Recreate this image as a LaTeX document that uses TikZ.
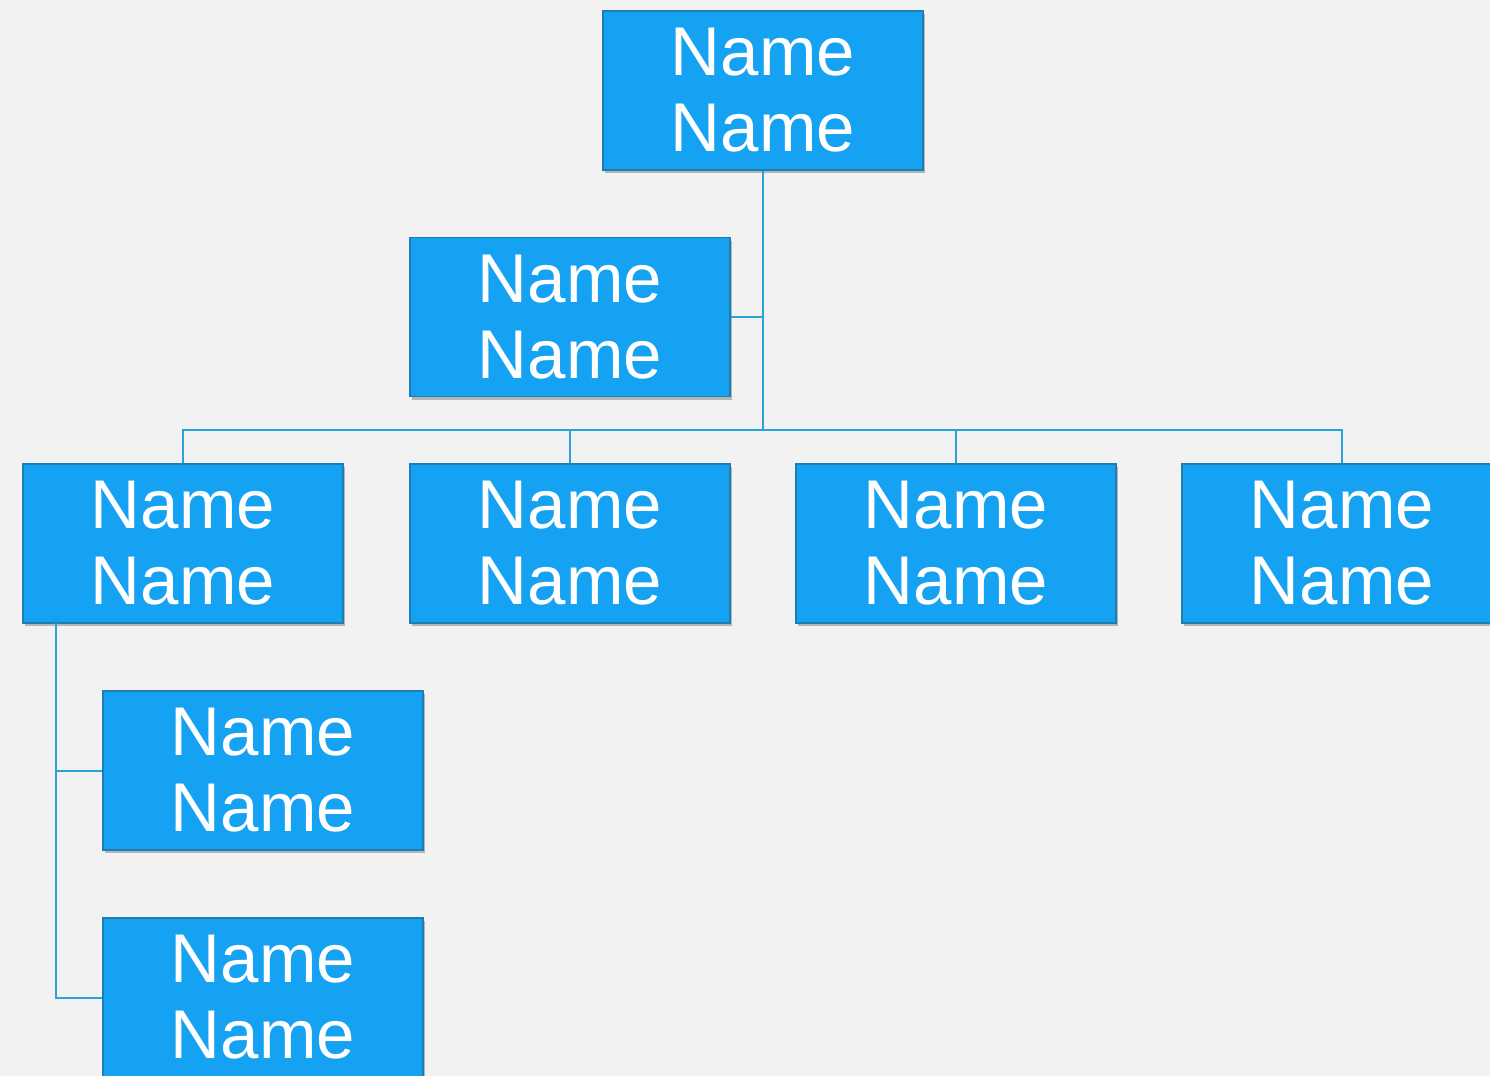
\documentclass[tikz,border=0pt]{standalone}
\usepackage{fontspec}
\setmainfont{Liberation Sans}
\usetikzlibrary{shadows}
\definecolor{bg}{HTML}{F2F2F2}
\definecolor{boxfill}{HTML}{16A2F2}
\definecolor{boxline}{HTML}{1E7DB2}
\definecolor{conncol}{HTML}{2BA3D3}
\begin{document}
\begin{tikzpicture}[x=0.5pt,y=-0.5pt,
  person/.style={rectangle, draw=boxline, line width=0.6pt, fill=boxfill,
    minimum width=160pt, minimum height=79.5pt, inner sep=0pt,
    text=white, align=center,
    font=\fontsize{34.5}{38}\selectfont,
    drop shadow={shadow xshift=1.2pt, shadow yshift=-1.5pt, opacity=0.25, fill=black}},
  conn/.style={draw=conncol, line width=1pt}]
\useasboundingbox (0,0) rectangle (1490,1076);
\clip (0,0) rectangle (1490,1076);
\fill[bg] (0,0) rectangle (1490,1076);
\node[person] (top) at (763,90.5) {Name\\Name};
\node[person] (mgr) at (570,317) {Name\\Name};
\node[person] (c1) at (183,543.5) {Name\\Name};
\node[person] (c2) at (570,543.5) {Name\\Name};
\node[person] (c3) at (956,543.5) {Name\\Name};
\node[person] (c4) at (1342,543.5) {Name\\Name};
\node[person] (s1) at (263,770.5) {Name\\Name};
\node[person] (s2) at (263,997.5) {Name\\Name};
\coordinate (hub) at (763,430);
\coordinate (lv) at (56,623);
\begin{scope}[on background layer/.try]
\end{scope}
\draw[conn] (top.south) -- (hub);
\draw[conn] (mgr.east) -- (mgr.east -| hub);
\draw[conn] (c1.north) |- (hub) -| (c4.north);
\draw[conn] (c2.north) -- (c2.north |- hub);
\draw[conn] (c3.north) -- (c3.north |- hub);
\draw[conn] (lv) |- (s2.west);
\draw[conn] (lv |- s1.west) -- (s1.west);
\end{tikzpicture}
\end{document}
